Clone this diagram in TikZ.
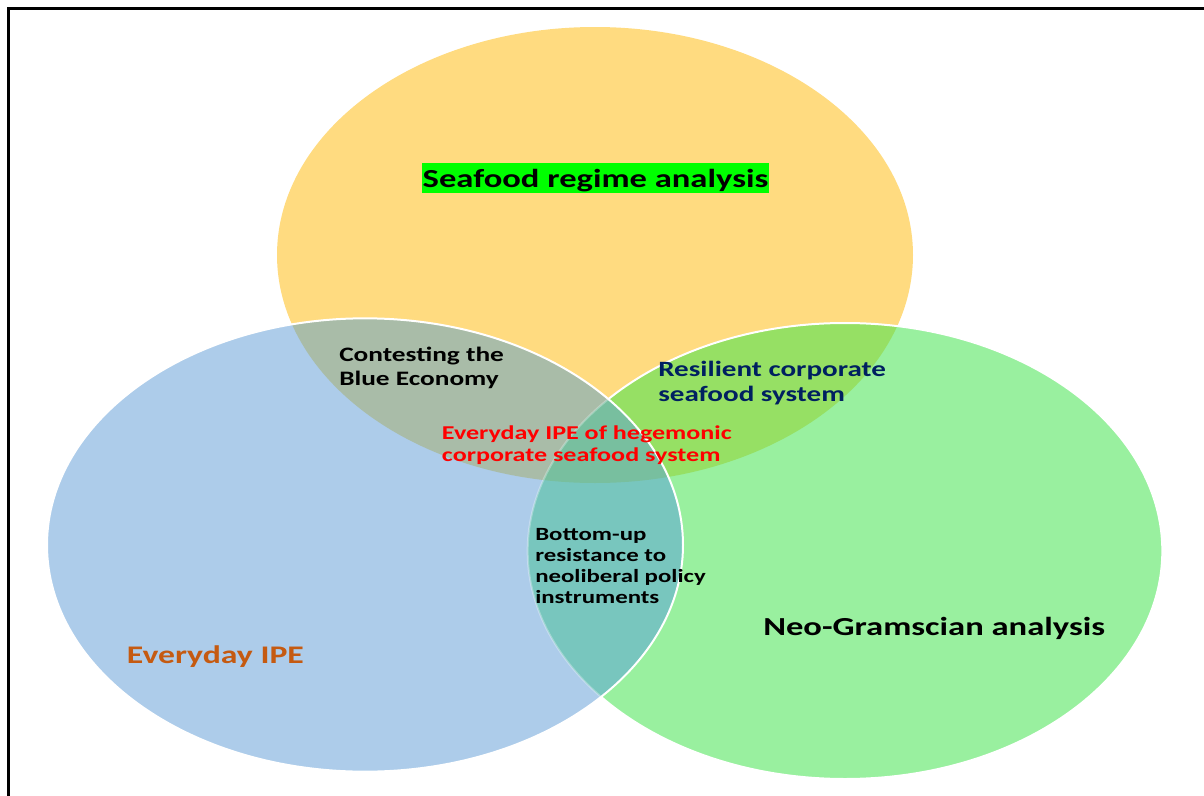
\documentclass[tikz,border=0pt]{standalone}
\usepackage{fontspec}
\newfontfamily\calfont{Carlito}[FakeStretch=1.33]
\definecolor{ylw}{HTML}{FFDB80}
\definecolor{blu}{HTML}{ADCCEA}
\definecolor{grn}{HTML}{99F09F}
\definecolor{ybc}{HTML}{A9BCA8}
\definecolor{ygc}{HTML}{96E064}
\definecolor{bgc}{HTML}{78C6BE}
\definecolor{ybgc}{HTML}{78BF9F}
\definecolor{navy}{HTML}{002060}
\definecolor{orng}{HTML}{C55A11}
\definecolor{hilite}{HTML}{00FF00}
\begin{document}
\begin{tikzpicture}[x=0.75pt,y=-0.75pt,
  lbl/.style={inner sep=0pt,anchor=base west,align=left},
  edge/.style={draw=white,line width=1.5pt}]
\useasboundingbox (0,0) rectangle (1204,796);
\def\ElY{(595,255) ellipse [x radius=238.5pt, y radius=171pt]}
\def\ElB{(365,545) ellipse [x radius=238.5pt, y radius=170pt]}
\def\ElG{(845,551) ellipse [x radius=238pt, y radius=171pt]}
% base fills
\fill[ylw] \ElY;
\fill[grn] \ElG;
\begin{scope}\clip \ElY; \fill[ygc] \ElG; \end{scope}
\draw[edge] \ElG;
\fill[blu] \ElB;
\begin{scope}\clip \ElB; \fill[ybc] \ElY; \end{scope}
\begin{scope}\clip \ElB; \fill[bgc] \ElG; \end{scope}
\begin{scope}\clip \ElB; \clip \ElY; \fill[ybgc] \ElG; \end{scope}
\begin{scope}\clip \ElB; \draw[edge,draw opacity=0.3] \ElG; \end{scope}
\draw[edge] \ElB;
% frame
\draw[line width=2.25pt] (8,796) -- (8,8) -- (1204,8);
% labels
\node (sra) [inner sep=0pt,anchor=base,fill=hilite,minimum width=260pt,text height=18pt,text depth=4.5pt,
  font=\calfont\bfseries\fontsize{19.5pt}{22pt}\selectfont] at (595.5,187.3) {Seafood regime analysis};
\node (cbe) [lbl,font=\calfont\bfseries\fontsize{15.4pt}{17.5pt}\selectfont] at (339,385)
  {Contesting the\\Blue Economy};
\node (rcs) [lbl,text=navy,font=\calfont\bfseries\fontsize{16.4pt}{19.2pt}\selectfont] at (658,401.7)
  {Resilient corporate\\seafood system};
\node (eih) [lbl,text=red,font=\calfont\bfseries\fontsize{14.7pt}{17pt}\selectfont] at (441.7,461.7)
  {Everyday IPE of hegemonic\\corporate seafood system};
\node (bur) [lbl,font=\calfont\bfseries\fontsize{14pt}{15.75pt}\selectfont] at (535,603)
  {Bottom-up\\resistance to\\neoliberal policy\\instruments};
\node (eipe) [lbl,text=orng,font=\calfont\bfseries\fontsize{19pt}{22pt}\selectfont] at (126.7,663)
  {Everyday IPE};
\node (nga) [lbl,font=\calfont\bfseries\fontsize{19.5pt}{22pt}\selectfont] at (763,635)
  {Neo-Gramscian analysis};
\end{tikzpicture}
\end{document}
